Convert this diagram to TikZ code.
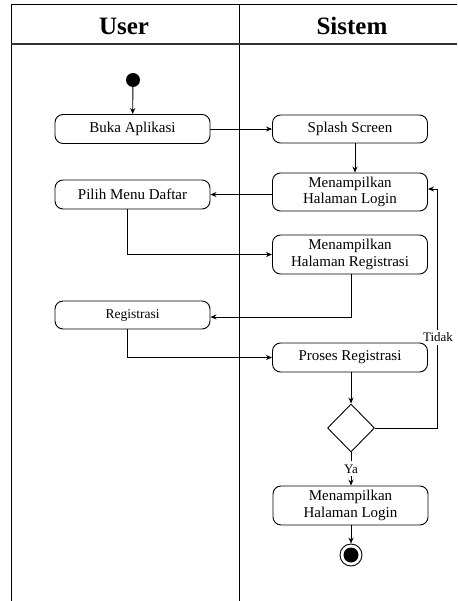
\documentclass[tikz,border=0pt]{standalone}
\usepackage{fontspec}
\setmainfont{Liberation Serif}
\usetikzlibrary{shapes.geometric,arrows.meta}
\begin{document}
\begin{tikzpicture}[x=1pt,y=-1pt,
  act/.style={draw,rounded corners=8pt,line width=0.9pt,minimum width=155pt,
    align=center,font=\fontsize{15}{16.5}\selectfont,inner sep=1pt},
  arr/.style={line width=0.9pt,-{Stealth[length=6pt,width=5pt]}},
  ln/.style={line width=0.9pt},
  lane/.style={line width=1pt},
  lbl/.style={font=\fontsize{13}{14}\selectfont,inner sep=1pt}]
\useasboundingbox (0,0) rectangle (457,601);
% swimlane frame
\draw[lane] (457,5) -- (11,5) -- (11,601);
\draw[lane] (239,5) -- (239,601);
\draw[line width=1.4pt,black!80] (11,44) -- (457,44);
\node[font=\bfseries\fontsize{25}{28}\selectfont] (huser) at (124,26) {User};
\node[font=\bfseries\fontsize{25}{28}\selectfont] (hsis) at (352,26) {Sistem};
% activities
\node[circle,fill=black,minimum size=14pt,inner sep=0pt] (start) at (133,80) {};
\node[act,minimum height=29pt] (buka) at (132.5,129) {Buka Aplikasi};
\node[act,minimum height=28pt] (splash) at (350,129) {Splash Screen};
\node[act,minimum height=38pt] (login1) at (350,192) {Menampilkan\\Halaman Login};
\node[act,minimum height=29pt] (pilih) at (132.5,194.5) {Pilih Menu Daftar};
\node[act,minimum height=39pt] (regh) at (350,254.5) {Menampilkan\\Halaman Registrasi};
\node[act,minimum height=28pt,font=\fontsize{13.5}{14}\selectfont] (reg) at (132.5,315) {Registrasi};
\node[act,minimum height=29pt] (proses) at (350,357.5) {Proses Registrasi};
\node[diamond,draw,line width=0.9pt,minimum width=47pt,minimum height=48pt,inner sep=0pt] (dec) at (351,428) {};
\node[act,minimum height=39pt] (login2) at (350.5,505.5) {Menampilkan\\Halaman Login};
\node[circle,draw,line width=0.9pt,minimum size=22pt,inner sep=0pt] (endo) at (351,555) {};
\node[circle,fill=black,minimum size=15pt,inner sep=0pt] (endi) at (endo) {};
\coordinate (loopx) at (437,0);
% flows
\draw[arr] (start) -- (buka);
\draw[arr] (buka) -- (splash);
\draw[arr] ([xshift=5pt]splash.south) -- ([xshift=5pt]splash.south |- login1.north);
\draw[arr] (login1.west |- pilih) -- (pilih.east);
\draw[arr] ([xshift=-5.5pt]pilih.south) |- (regh.west);
\draw[arr] ([xshift=1pt]regh.south) |- ([yshift=-2pt]reg.east);
\draw[arr] ([xshift=-5.5pt]reg.south) |- (proses.west);
\draw[arr] ([xshift=1pt]proses.south) -- (dec.north);
\draw[ln] (dec.east) -- (loopx |- dec.east) -- (loopx |- 0,345);
\draw[arr] (loopx |- 0,330) -- (loopx |- 0,189) -- (login1.east |- 0,189);
\node[lbl] (tidak) at (438,337) {Tidak};
\draw[ln] (dec.south) -- (351,461);
\node[lbl] (ya) at (351,469) {Ya};
\draw[arr] (351,476) -- (login2.north -| 351,0);
\draw[arr] (login2.south -| 351,0) -- (endo.north);
\end{tikzpicture}
\end{document}
